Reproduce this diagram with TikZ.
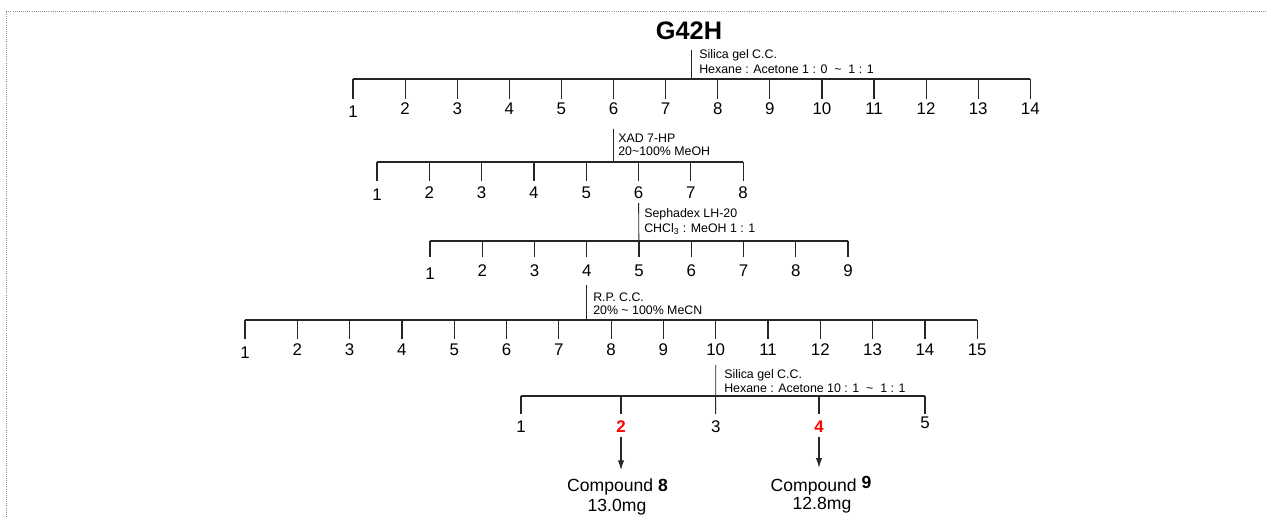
\documentclass[tikz,border=0pt]{standalone}
\usepackage{fontspec}
\setmainfont{Liberation Sans}
\usetikzlibrary{arrows.meta, positioning}

\begin{document}
\begin{tikzpicture}[
    x=0.025cm, y=-0.025cm,
    frac/.style={anchor=base, inner sep=3pt, font=\fontsize{12}{14}\selectfont},
    hit/.style={frac, text=red, font=\fontsize{12}{14}\selectfont\bfseries},
    note/.style={anchor=base west, inner sep=0pt, font=\fontsize{8.8}{10}\selectfont},
    title/.style={anchor=base, inner xsep=0pt, inner ysep=6.4pt, font=\fontsize{18}{21}\selectfont\bfseries},
    cpd/.style={anchor=base, inner xsep=0pt, inner ysep=5.5pt, font=\fontsize{12.5}{15}\selectfont},
    bar/.style={draw=black!85, line width=0.85pt},
    stem/.style={draw=black!85, line width=0.6pt},
    frame/.style={draw=black!45, line width=0.6pt, dash pattern=on 0.7pt off 0.8pt},
    >={Latex[length=7pt,width=4.5pt]}
]
\useasboundingbox (0,0) rectangle (1268,517);

% Dotted frame (runs off the page at right and bottom)
\draw[frame] (6,517) |- (1268,11);

% Sample
\node[title] (g) at (689,40) {G42H};

% Row 1: Silica gel C.C. (14 fractions)
\coordinate (r1s) at (691,79);
\foreach \i in {1,...,14} {
    \pgfmathsetmacro\dy{\i==1 ? 2.5 : 0}
    \coordinate (r1t\i) at ({353+(\i-1)*52.1},79);
    \coordinate (r1b\i) at ({353+(\i-1)*52.1},99);
    \node[frac] (r1n\i) at ({353+(\i-1)*52.1},115+\dy) {\i};
    \draw[bar] (r1t\i) -- (r1b\i);
}
\draw[bar] (r1t1) -- (r1t14);
\draw[stem] (g.south -| r1s) -- (r1s);
\node[note] (n1a) at (699,58.7) {Silica gel C.C.};
\node[note] (n1b) at (699,73.3) {Hexane : Acetone 1 : 0 \ \textasciitilde{} \ 1 : 1};

% Row 2: XAD 7-HP (8 fractions)
\coordinate (r2s) at (613.5,162);
\foreach \i in {1,...,8} {
    \pgfmathsetmacro\dy{\i==1 ? 2 : 0}
    \coordinate (r2t\i) at ({377+(\i-1)*52.3},162);
    \coordinate (r2b\i) at ({377+(\i-1)*52.3},181);
    \node[frac] (r2n\i) at ({377+(\i-1)*52.3},198.5+\dy) {\i};
    \draw[bar] (r2t\i) -- (r2b\i);
}
\draw[bar] (r2t1) -- (r2t8);
\draw[stem] ([yshift=-6.5pt]r1n6.south) -- (r2s);
\node[note] (n2a) at (618,143) {XAD 7-HP};
\node[note] (n2b) at (618,155.5) {20\textasciitilde100\% MeOH};

% Row 3: Sephadex LH-20 (9 fractions)
\foreach \i in {1,...,9} {
    \pgfmathsetmacro\dy{\i==1 ? 3 : 0}
    \coordinate (r3t\i) at ({430+(\i-1)*52.25},241);
    \coordinate (r3b\i) at ({430+(\i-1)*52.25},257);
    \node[frac] (r3n\i) at ({430+(\i-1)*52.25},277+\dy) {\i};
    \draw[bar] (r3t\i) -- (r3b\i);
}
\draw[bar] (r3t1) -- (r3t9);
\draw[stem] (r2n6) -- (r3b5);
\node[note] (n3a) at (644,218) {Sephadex LH-20};
\node[note] (n3b) at (644,233) {CHCl\textsubscript{3} : MeOH 1 : 1};

% Row 4: R.P. C.C. (15 fractions)
\coordinate (r4s) at (586.75,320);
\foreach \i in {1,...,15} {
    \pgfmathsetmacro\dy{\i==1 ? 3 : 0}
    \coordinate (r4t\i) at ({245+(\i-1)*52.3},320);
    \coordinate (r4b\i) at ({245+(\i-1)*52.3},339);
    \node[frac] (r4n\i) at ({245+(\i-1)*52.3},356+\dy) {\i};
    \draw[bar] (r4t\i) -- (r4b\i);
}
\draw[bar] (r4t1) -- (r4t15);
\draw[stem] ([yshift=-2.5pt]r3n4.south) -- (r4s);
\node[note] (n4a) at (593,302) {R.P. C.C.};
\node[note] (n4b) at (593,315) {20\% \textasciitilde{} 100\% MeCN};

% Row 5: Silica gel C.C. (5 fractions)
\foreach \i/\x/\y/\s in {1/521/432/frac, 2/621/432/hit, 3/715.7/432/frac, 4/819/432/hit, 5/925/429/frac} {
    \coordinate (r5t\i) at (\x,396);
    \coordinate (r5b\i) at (\x,414);
    \node[\s] (r5n\i) at (\x,\y) {\i};
    \draw[bar] (r5t\i) -- (r5b\i);
}
\draw[bar] (r5t1) -- (r5t5);
\draw[stem] ([yshift=-3pt]r4n10.south) -- (r5b3);
\node[note] (n5a) at (724,378) {Silica gel C.C.};
\node[note] (n5b) at (724,392.5) {Hexane : Acetone 10 : 1 \ \textasciitilde{} \ 1 : 1};

% Isolated compounds
\node[cpd] (c8) at (617.5,491) {Compound \textbf{8}};
\node[cpd] (m8) at (617,511.5) {13.0mg};
\node[cpd] (c9) at (821,491) {Compound \textbf{\raisebox{2pt}{9}}};
\node[cpd] (m9) at (822,509) {12.8mg};
\draw[bar, ->] (r5n2) -- (r5n2 |- c8.north);
\draw[bar, ->] (r5n4) -- (r5n4 |- c9.north);

\end{tikzpicture}
\end{document}
